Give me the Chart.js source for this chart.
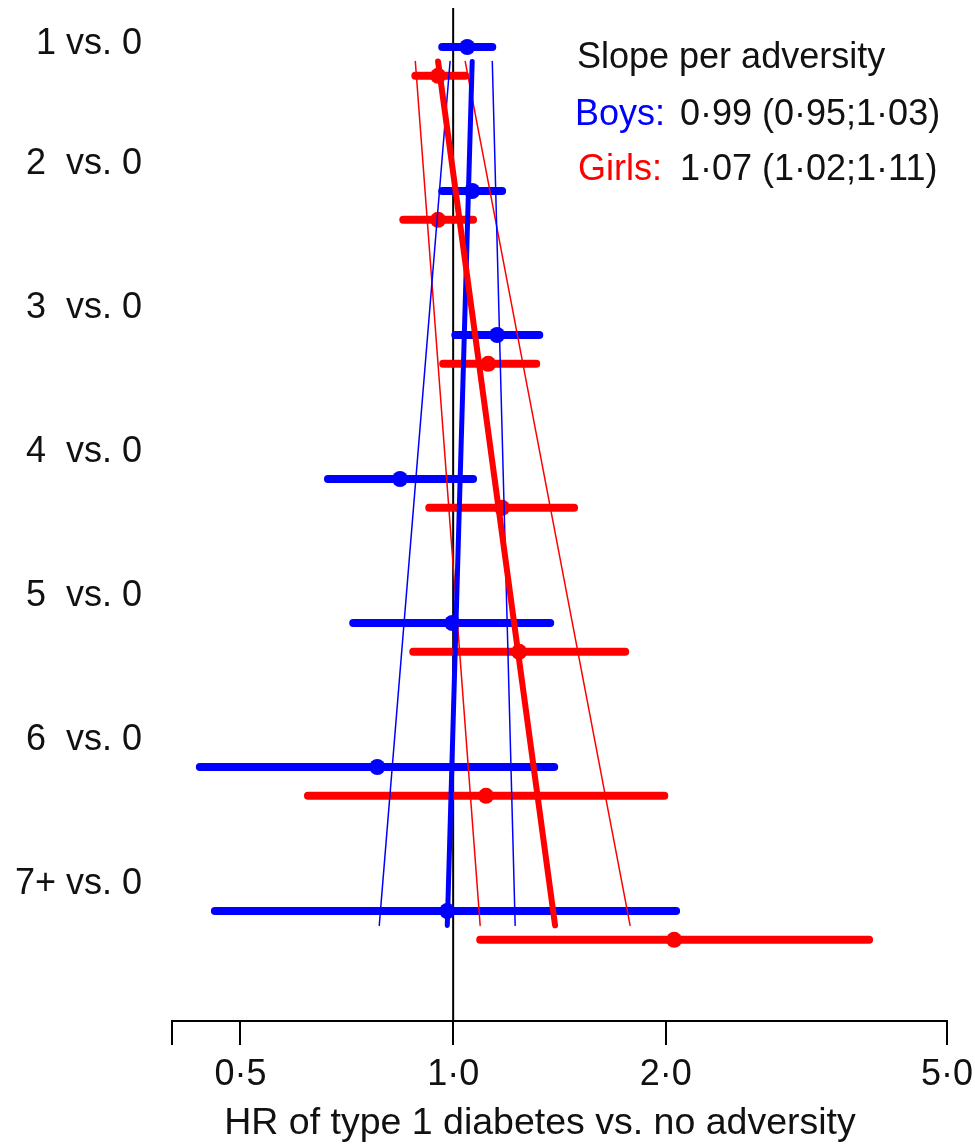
<!DOCTYPE html>
<html>
<head>
<meta charset="utf-8">
<script src="https://cdn.jsdelivr.net/npm/chart.js@4.4.1/dist/chart.umd.min.js"></script>
<style>
  body { margin: 0; background: #fff; }
  #wrap { width: 975px; height: 1147px; position: relative; }
</style>
</head>
<body>
<div id="wrap"><canvas id="mycanvas"></canvas></div>
<script>
// rows of the forest plot
var categories = ['1 vs. 0', '2  vs. 0', '3  vs. 0', '4  vs. 0', '5  vs. 0', '6  vs. 0', '7+ vs. 0'];

// hazard ratios with 95% CI
var boysHR   = [1.047, 1.064, 1.154, 0.841, 0.997, 0.781, 0.981];
var boysLow  = [0.965, 0.965, 1.007, 0.665, 0.722, 0.438, 0.460];
var boysHigh = [1.136, 1.173, 1.324, 1.067, 1.372, 1.390, 2.068];
var girlsHR   = [0.952, 0.952, 1.121, 1.173, 1.240, 1.113, 2.055];
var girlsLow  = [0.884, 0.850, 0.968, 0.925, 0.878, 0.623, 1.092];
var girlsHigh = [1.040, 1.067, 1.311, 1.483, 1.752, 1.990, 3.879];

// fitted slope lines, value at first row and at last row
var boysSlope      = [1.064, 0.981];
var boysSlopeLow   = [0.990, 0.786];
var boysSlopeHigh  = [1.136, 1.224];
var girlsSlope     = [0.952, 1.394];
var girlsSlopeLow  = [0.884, 1.092];
var girlsSlopeHigh = [1.040, 1.780];

var xTicks = [0.4, 0.5, 1, 2, 5];
var xTickLabels = ['', '0\u00B75', '1\u00B70', '2\u00B70', '5\u00B70'];

var BLUE = 'rgb(0,0,255)';
var RED = 'rgb(255,0,0)';
var FONT = "'Liberation Sans', Arial, sans-serif";
var yMin = 0.729, yMax = 7.764;

function ciSegments(low, high, off) {
    var pts = [];
    for (var i = 0; i < low.length; i++) {
        pts.push({x: low[i], y: i + 1 + off});
        pts.push({x: high[i], y: i + 1 + off});
        pts.push({x: 1, y: null});
    }
    return pts;
}
function dots(vals, off) {
    return vals.map(function (v, i) { return {x: v, y: i + 1 + off}; });
}
function slopeLine(ends) {
    return [{x: ends[0], y: 1.1}, {x: ends[1], y: categories.length + 0.1}];
}
function lineSet(data, color, width, order) {
    return {
        data: data, showLine: true, borderColor: color, backgroundColor: color,
        borderWidth: width, pointRadius: 0, tension: 0, spanGaps: false,
        borderCapStyle: 'round', order: order
    };
}

var textPlugin = {
    id: 'texts',
    afterDraw: function (chart) {
        var ctx = chart.ctx;
        ctx.save();
        ctx.font = '36px ' + FONT;
        ctx.textBaseline = 'alphabetic';
        ctx.textAlign = 'left';
        ctx.fillStyle = '#111';
        ctx.fillText('Slope per adversity', 577, 68);
        ctx.fillStyle = BLUE;
        ctx.fillText('Boys:', 575, 125);
        ctx.fillStyle = '#111';
        ctx.fillText('0\u00B799 (0\u00B795;1\u00B703)', 680, 125);
        ctx.fillStyle = RED;
        ctx.fillText('Girls:', 578, 180);
        ctx.fillStyle = '#111';
        ctx.fillText('1\u00B707 (1\u00B702;1\u00B711)', 680, 180);
        ctx.font = '37.5px ' + FONT;
        ctx.textAlign = 'center';
        ctx.textBaseline = 'middle';
        ctx.fillText('HR of type 1 diabetes vs. no adversity', 540, 1124);
        ctx.restore();
    }
};

Chart.defaults.font.family = FONT;
Chart.defaults.color = '#111';

var ctx = document.getElementById('mycanvas');
new Chart(ctx, {
    type: 'scatter',
    data: {
        datasets: [
            lineSet([{x: 1, y: yMin}, {x: 1, y: yMax}], '#000', 2, 50),
            lineSet(ciSegments(boysLow, boysHigh, 0), BLUE, 8, 40),
            lineSet(ciSegments(girlsLow, girlsHigh, 0.2), RED, 8, 39),
            {data: dots(boysHR, 0), backgroundColor: BLUE, borderColor: BLUE, pointRadius: 8, borderWidth: 0, order: 30},
            {data: dots(girlsHR, 0.2), backgroundColor: RED, borderColor: RED, pointRadius: 8, borderWidth: 0, order: 29},
            lineSet(slopeLine(boysSlopeLow), BLUE, 1.5, 10),
            lineSet(slopeLine(boysSlopeHigh), BLUE, 1.5, 10),
            lineSet(slopeLine(girlsSlopeLow), RED, 1.5, 10),
            lineSet(slopeLine(girlsSlopeHigh), RED, 1.5, 10),
            lineSet(slopeLine(boysSlope), BLUE, 5, 5),
            lineSet(slopeLine(girlsSlope), RED, 6, 4)
        ]
    },
    options: {
        responsive: true,
        maintainAspectRatio: false,
        animation: false,
        layout: {padding: {top: 8, right: 28, left: 0, bottom: 0}},
        plugins: {legend: {display: false}, tooltip: {enabled: false}},
        scales: {
            x: {
                type: 'logarithmic',
                min: 0.4,
                max: 5,
                afterBuildTicks: function (scale) {
                    scale.ticks = xTicks.map(function (v) { return {value: v}; });
                },
                afterFit: function (scale) {
                    scale.height = 126;
                    scale.paddingLeft = 0;
                    scale.paddingRight = 0;
                },
                border: {display: true, color: '#000', width: 2},
                grid: {display: true, drawOnChartArea: false, drawTicks: true, tickLength: 24, color: '#000', lineWidth: 2},
                ticks: {
                    autoSkip: false, maxRotation: 0, padding: 8,
                    font: {size: 36}, color: '#111',
                    callback: function (value) {
                        var k = xTicks.indexOf(value);
                        return k >= 0 ? xTickLabels[k] : '';
                    }
                }
            },
            y: {
                type: 'linear',
                reverse: true,
                min: yMin,
                max: yMax,
                afterBuildTicks: function (scale) {
                    scale.ticks = categories.map(function (c, i) {
                        return {value: Math.max(i + 1 - 0.19, 0.98)};
                    });
                },
                afterFit: function (scale) {
                    scale.width = 172;
                    scale.paddingTop = 0;
                    scale.paddingBottom = 0;
                },
                border: {display: false},
                grid: {display: false, drawTicks: false},
                ticks: {
                    autoSkip: false, padding: 30,
                    font: {size: 36}, color: '#111',
                    callback: function (value, index) { return categories[index]; }
                }
            }
        }
    },
    plugins: [textPlugin]
});
</script>
</body>
</html>
